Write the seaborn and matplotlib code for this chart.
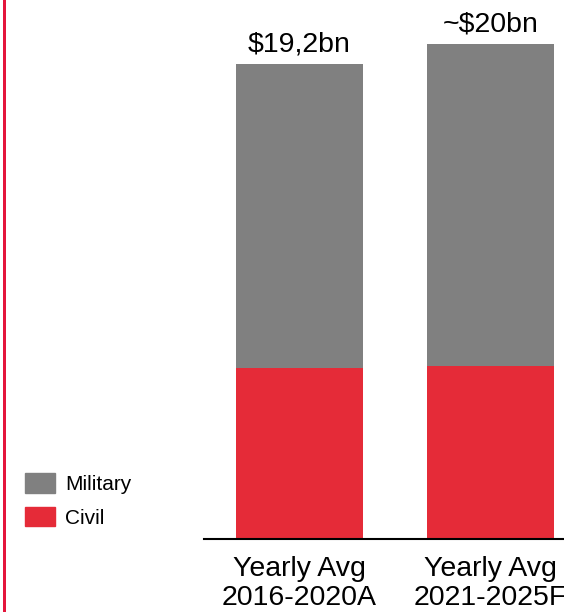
import seaborn as sns
import pandas as pd
import matplotlib.pyplot as plt
from matplotlib.patches import Patch, Rectangle

# data (USD bn)
periods = ['Yearly Avg\n2016-2020A', 'Yearly Avg\n2021-2025F']
civil = [6.9, 7.0]
military = [12.3, 13.0]
total_labels = ['$19,2bn', '~$20bn']

gray = '#808080'
red = '#E52B38'

df = pd.DataFrame({'period': periods, 'civil': civil, 'military': military})
df['total'] = df['civil'] + df['military']

sns.set_theme(style='white')
plt.rcParams['font.family'] = ['Liberation Sans', 'DejaVu Sans']

fig = plt.figure(figsize=(5.64, 6.12), dpi=100)
ax = fig.add_axes([0.3617, 0.1193, 0.6383, 0.8807])

# stacked bars: full total in gray, civil part over it in red
sns.barplot(data=df, x='period', y='total', color=gray, width=0.665,
            saturation=1, linewidth=0, ax=ax)
sns.barplot(data=df, x='period', y='civil', color=red, width=0.665,
            saturation=1, linewidth=0, ax=ax)

for i, (tot, lab) in enumerate(zip(df['total'], total_labels)):
    ax.annotate(lab, (i, tot), xytext=(0, 4.5), textcoords='offset points',
                ha='center', va='bottom', fontsize=20.5, color='black')

ax.set_xlim(-0.5, 1.385)
ax.set_ylim(0, 21.78)
ax.set_xlabel('')
ax.set_ylabel('')
ax.set_yticks([])
ax.tick_params(axis='x', length=0, pad=12, labelsize=20.5, labelcolor='black')
for t in ax.get_xticklabels():
    t.set_linespacing(1.18)
for s in ['top', 'right', 'left']:
    ax.spines[s].set_visible(False)
ax.spines['bottom'].set_color('black')
ax.spines['bottom'].set_linewidth(1.5)

handles = [Patch(color=gray, label='Military'), Patch(color=red, label='Civil')]
fig.legend(handles=handles, loc='center left', bbox_to_anchor=(0.044, 0.182),
           frameon=False, fontsize=15, handlelength=1.45, handleheight=1.05,
           handletextpad=0.5, labelspacing=0.62, borderpad=0, borderaxespad=0,
           labelcolor='black')

# red frame line on the left edge
fig.add_artist(Rectangle((2.5 / 564, 0), 3 / 564, 1, transform=fig.transFigure,
                         color='#E4163C', linewidth=0))

fig.savefig('out.png', dpi=100)
